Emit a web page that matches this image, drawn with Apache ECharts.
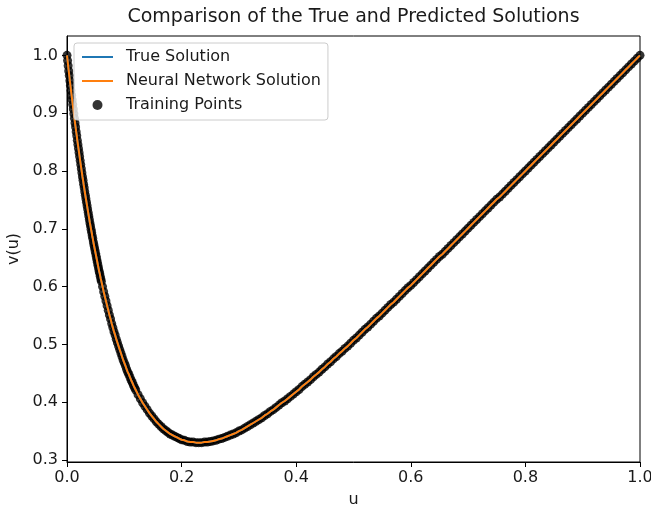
<!DOCTYPE html>
<html>
<head>
<meta charset="utf-8">
<script src="https://cdn.jsdelivr.net/npm/echarts@6/dist/echarts.min.js"></script>
<style>html,body{margin:0;padding:0;background:#fff;}#c{width:651px;height:507px;}</style>
</head>
<body>
<div id="c"></div>
<script>
// u positions of the samples / training points
const uVals = [
0,0.001,0.002,0.003,0.004,0.005,0.006,0.007,0.008,0.009,0.010,0.011,0.012,0.013,0.014,0.015,0.016,0.017,0.018,0.019,
0.020,0.021,0.022,0.023,0.024,0.025,0.026,0.027,0.028,0.029,0.030,0.031,0.032,0.033,0.034,0.035,0.036,0.037,0.038,0.039,
0.040,0.041,0.042,0.043,0.044,0.045,0.046,0.047,0.048,0.049,0.050,0.051,0.052,0.053,0.054,0.055,0.056,0.057,0.058,0.059,0.060,
0.062,0.064,0.066,0.068,0.070,0.072,0.074,0.076,0.078,0.080,0.082,0.084,0.086,0.088,0.090,0.092,0.094,0.096,0.098,0.100,
0.102,0.104,0.106,0.108,0.110,0.112,0.114,0.116,0.118,0.120,
0.124,0.128,0.132,0.136,0.140,0.144,0.148,0.152,0.156,0.160,0.164,0.168,0.172,0.176,0.180,0.184,0.188,0.192,0.196,0.200,
0.205,0.210,0.215,0.220,0.225,0.230,0.235,0.240,0.245,0.250,0.255,0.260,0.265,0.270,0.275,0.280,0.285,0.290,0.295,0.300,
0.305,0.310,0.315,0.320,0.325,0.330,0.335,0.340,0.345,0.350,0.355,0.360,0.365,0.370,0.375,0.380,0.385,0.390,0.395,0.400,
0.405,0.410,0.415,0.420,0.425,0.430,0.435,0.440,0.445,0.450,0.455,0.460,0.465,0.470,0.475,0.480,0.485,0.490,0.495,0.500,
0.505,0.510,0.515,0.520,0.525,0.530,0.535,0.540,0.545,0.550,0.555,0.560,0.565,0.570,0.575,0.580,0.585,0.590,0.595,0.600,
0.605,0.610,0.615,0.620,0.625,0.630,0.635,0.640,0.645,0.650,0.655,0.660,0.665,0.670,0.675,0.680,0.685,0.690,0.695,0.700,
0.705,0.710,0.715,0.720,0.725,0.730,0.735,0.740,0.745,0.750,0.755,0.760,0.765,0.770,0.775,0.780,0.785,0.790,0.795,0.800,
0.805,0.810,0.815,0.820,0.825,0.830,0.835,0.840,0.845,0.850,0.855,0.860,0.865,0.870,0.875,0.880,0.885,0.890,0.895,0.900,
0.905,0.910,0.915,0.920,0.925,0.930,0.935,0.940,0.945,0.950,0.955,0.960,0.965,0.970,0.975,0.980,0.985,0.990,0.995,1.000
];
// v(u)
const vTrue = [
1.000,0.991,0.982,0.973,0.965,0.956,0.948,0.939,0.931,0.923,0.915,0.907,0.899,0.891,0.883,0.876,0.868,0.861,0.853,0.846,
0.839,0.832,0.825,0.818,0.811,0.804,0.797,0.790,0.784,0.777,0.771,0.764,0.758,0.752,0.746,0.740,0.734,0.728,0.722,0.716,
0.710,0.705,0.699,0.694,0.688,0.683,0.677,0.672,0.667,0.662,0.657,0.652,0.647,0.642,0.637,0.632,0.627,0.623,0.618,0.613,0.609,
0.600,0.591,0.583,0.575,0.567,0.559,0.551,0.544,0.536,0.529,0.522,0.516,0.509,0.503,0.497,0.491,0.485,0.479,0.473,0.468,
0.463,0.457,0.452,0.448,0.443,0.438,0.434,0.429,0.425,0.421,
0.413,0.406,0.399,0.393,0.387,0.381,0.376,0.371,0.366,0.362,0.358,0.354,0.351,0.348,0.345,0.343,0.341,0.339,0.337,0.335,
0.334,0.332,0.331,0.331,0.330,0.330,0.330,0.331,0.331,0.332,0.333,0.334,0.336,0.337,0.339,0.341,0.343,0.345,0.347,0.350,
0.352,0.355,0.358,0.361,0.364,0.367,0.370,0.373,0.377,0.380,0.384,0.387,0.391,0.395,0.399,0.402,0.406,0.410,0.414,0.418,
0.422,0.427,0.431,0.435,0.439,0.444,0.448,0.452,0.457,0.461,0.466,0.470,0.475,0.479,0.484,0.488,0.493,0.497,0.502,0.507,
0.511,0.516,0.521,0.526,0.530,0.535,0.540,0.545,0.549,0.554,0.559,0.564,0.569,0.573,0.578,0.583,0.588,0.593,0.598,0.602,
0.607,0.612,0.617,0.622,0.627,0.632,0.637,0.642,0.647,0.652,0.656,0.661,0.666,0.671,0.676,0.681,0.686,0.691,0.696,0.701,
0.706,0.711,0.716,0.721,0.726,0.731,0.736,0.741,0.746,0.751,0.755,0.760,0.765,0.770,0.775,0.780,0.785,0.790,0.795,0.800,
0.805,0.810,0.815,0.820,0.825,0.830,0.835,0.840,0.845,0.850,0.855,0.860,0.865,0.870,0.875,0.880,0.885,0.890,0.895,0.900,
0.905,0.910,0.915,0.920,0.925,0.930,0.935,0.940,0.945,0.950,0.955,0.960,0.965,0.970,0.975,0.980,0.985,0.990,0.995,1.000
];
// the network prediction is indistinguishable from the true curve in the picture
const vNN = vTrue.slice();
// training points lie on the curve
const vTrain = vTrue.slice();

const xTicks = [0.0, 0.2, 0.4, 0.6, 0.8, 1.0];
const yTicks = [0.3, 0.4, 0.5, 0.6, 0.7, 0.8, 0.9, 1.0];
const seriesNames = ['True Solution', 'Neural Network Solution', 'Training Points'];

const pairs = (vs) => uVals.map((u, i) => [u, vs[i]]);
const FONT = 'DejaVu Sans';
const TXT = '#1a1a1a';
// legend handle: a thin horizontal bar; zero-length sub-paths at the corners keep the full box
const LINE_ICON = 'path://M0,0L0,0M0,4L31,4L31,6L0,6ZM31,10L31,10';

const chart = echarts.init(document.getElementById('c'), null, {renderer: 'canvas'});
chart.setOption({
  animation: false,
  backgroundColor: '#fff',
  textStyle: {fontFamily: FONT},
  title: {
    text: 'Comparison of the True and Predicted Solutions',
    left: 353.5, textAlign: 'center', top: 8, padding: 0,
    textStyle: {fontFamily: FONT, fontSize: 19, fontWeight: 'normal', color: TXT}
  },
  grid: {
    left: 67, right: 11, top: 36, bottom: 45, containLabel: false, outerBoundsMode: 'none',
    show: true, borderColor: '#000', borderWidth: 1, backgroundColor: 'transparent'
  },
  legend: {
    orient: 'vertical', left: 74, top: 43,
    padding: [6, 7, 7, 8], itemGap: 8, itemWidth: 31, itemHeight: 10,
    backgroundColor: 'rgba(255,255,255,0.8)', borderColor: '#cccccc', borderWidth: 1, borderRadius: 3,
    textStyle: {fontFamily: FONT, fontSize: 16, color: TXT, lineHeight: 16, padding: [0, 0, 0, 8]},
    data: [
      {name: seriesNames[0], icon: LINE_ICON, itemStyle: {color: '#1f77b4', borderWidth: 0}},
      {name: seriesNames[1], icon: LINE_ICON, itemStyle: {color: '#ff7f0e', borderWidth: 0}},
      {name: seriesNames[2], icon: 'circle', itemStyle: {color: '#000', borderWidth: 0}}
    ],
    z: 10
  },
  xAxis: {
    type: 'value', min: 0, max: 1, interval: 0.2,
    name: 'u', nameLocation: 'middle', nameGap: 30,
    nameTextStyle: {fontFamily: FONT, fontSize: 16, color: TXT},
    axisLine: {show: true, onZero: false, lineStyle: {color: '#000', width: 1}},
    axisTick: {show: true, inside: false, length: 5, lineStyle: {color: '#000', width: 1}},
    axisLabel: {margin: 8, fontFamily: FONT, fontSize: 16, color: TXT, formatter: v => v.toFixed(1), showMinLabel: true, showMaxLabel: true},
    splitLine: {show: false}
  },
  yAxis: {
    type: 'value', min: 0.2965, max: 1.0335,
    name: 'v(u)', nameLocation: 'middle', nameGap: 41,
    nameTextStyle: {fontFamily: FONT, fontSize: 16, color: TXT},
    axisLine: {show: true, onZero: false, lineStyle: {color: '#000', width: 1}},
    axisTick: {show: true, inside: false, length: 5, customValues: yTicks, lineStyle: {color: '#000', width: 1}},
    axisLabel: {margin: 9, fontFamily: FONT, fontSize: 16, color: TXT, customValues: yTicks, formatter: v => Number(v).toFixed(1)},
    splitLine: {show: false}
  },
  series: [
    {
      name: seriesNames[2], type: 'scatter', data: pairs(vTrain),
      symbol: 'circle', symbolSize: 9, itemStyle: {color: '#000'}, z: 1
    },
    {
      name: seriesNames[0], type: 'line', data: pairs(vTrue),
      symbol: 'none', showSymbol: false, lineStyle: {color: '#1f77b4', width: 2}, itemStyle: {color: '#1f77b4'}, z: 2
    },
    {
      name: seriesNames[1], type: 'line', data: pairs(vNN),
      symbol: 'none', showSymbol: false, lineStyle: {color: '#ff7f0e', width: 2}, itemStyle: {color: '#ff7f0e'}, z: 3
    }
  ]
});
</script>
</body>
</html>
